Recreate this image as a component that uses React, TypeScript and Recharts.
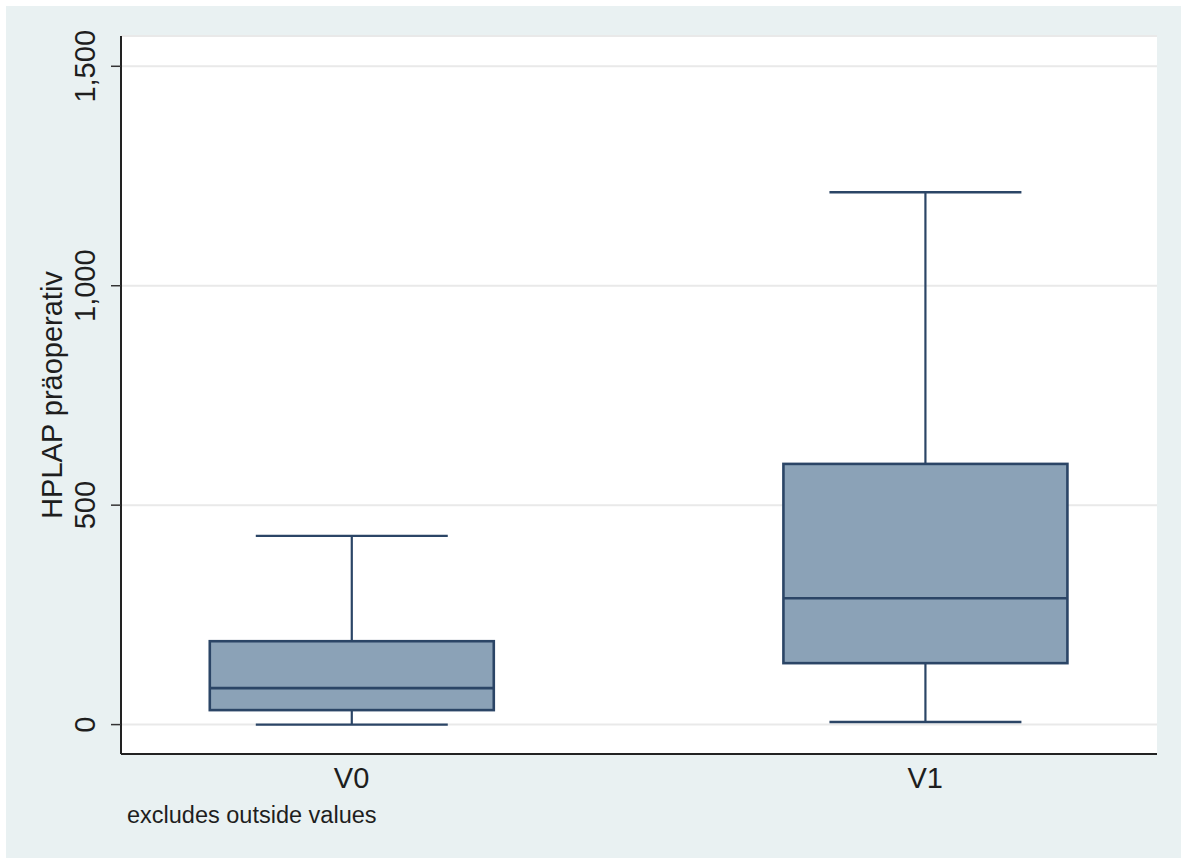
import React from 'react';
import { ComposedChart, Bar, XAxis, YAxis, CartesianGrid } from 'recharts';

// Box-plot summary for HPLAP (preoperative), outside values excluded
const categories = ['V0', 'V1'];
const whiskerLow = [0, 6];
const quartile1 = [33, 140];
const medians = [83, 288];
const quartile3 = [190, 594];
const whiskerHigh = [430, 1213];
const yTicks = [0, 500, 1000, 1500];

const data = categories.map((name, i) => ({
  name,
  pos: i + 1,
  lo: whiskerLow[i],
  q1: quartile1[i],
  med: medians[i],
  q3: quartile3[i],
  hi: whiskerHigh[i],
}));

const FONT = '"Liberation Sans", Arial, Helvetica, sans-serif';
const TEXT = '#1e1e1e';
const BOX_FILL = '#8ba2b7';
const BOX_LINE = '#2b4566';

const BoxShape = (props: any) => {
  const { x, y, width, height, payload } = props;
  const top = Math.min(y, y + height);
  const bottom = Math.max(y, y + height);
  const span = payload.hi - payload.lo;
  const py = (v: number) => top + ((payload.hi - v) / span) * (bottom - top);
  const cx = x + width / 2;
  const capHalf = width * 0.338;
  const yQ3 = py(payload.q3);
  const yQ1 = py(payload.q1);
  const yMed = py(payload.med);
  return (
    <g>
      <line x1={cx} x2={cx} y1={top} y2={yQ3} stroke={BOX_LINE} strokeWidth={2.2} />
      <line x1={cx} x2={cx} y1={yQ1} y2={bottom} stroke={BOX_LINE} strokeWidth={2.2} />
      <line x1={cx - capHalf} x2={cx + capHalf} y1={top} y2={top} stroke={BOX_LINE} strokeWidth={2.4} />
      <line x1={cx - capHalf} x2={cx + capHalf} y1={bottom} y2={bottom} stroke={BOX_LINE} strokeWidth={2.4} />
      <rect x={x} y={yQ3} width={width} height={yQ1 - yQ3} fill={BOX_FILL} stroke={BOX_LINE} strokeWidth={2.6} />
      <line x1={x} x2={x + width} y1={yMed} y2={yMed} stroke={BOX_LINE} strokeWidth={2.6} />
    </g>
  );
};

const YTick = (props: any) => {
  const { x, y, payload } = props;
  return (
    <text
      transform={`translate(${x}, ${y}) rotate(-90)`}
      textAnchor="middle"
      fontFamily={FONT}
      fontSize={29}
      fill={TEXT}
    >
      {payload.value.toLocaleString('en-US')}
    </text>
  );
};

const XTick = (props: any) => {
  const { x, y, payload } = props;
  return (
    <text x={x} y={y + 34} textAnchor="middle" fontFamily={FONT} fontSize={29} fill={TEXT}>
      {categories[payload.value - 1]}
    </text>
  );
};

const YTitle = (props: any) => {
  const { viewBox } = props;
  const cy = viewBox.y + viewBox.height / 2;
  return (
    <text
      transform={`translate(56, ${cy}) rotate(-90)`}
      textAnchor="middle"
      fontFamily={FONT}
      fontSize={29}
      fill={TEXT}
    >
      HPLAP präoperativ
    </text>
  );
};

const Note = (props: any) => {
  const { viewBox } = props;
  return (
    <text x={viewBox.x + 6} y={viewBox.y + 69} fontFamily={FONT} fontSize={23.5} fill={TEXT}>
      excludes outside values
    </text>
  );
};

export default function App() {
  return (
    <div
      style={{
        position: 'absolute',
        left: 6,
        top: 6,
        width: 1175,
        height: 852,
        background: '#e9f1f2',
      }}
    >
      <ComposedChart
        width={1175}
        height={852}
        data={data}
        margin={{ top: 30, right: 24, bottom: 24, left: 0 }}
      >
        <CartesianGrid
          vertical={false}
          horizontal
          fill="#ffffff"
          stroke="#e9e9e9"
          strokeWidth={2}
        />
        <XAxis
          type="number"
          dataKey="pos"
          domain={[0.598, 2.404]}
          ticks={[1, 2]}
          allowDataOverflow
          height={80}
          tickLine={false}
          tickSize={0}
          tickMargin={0}
          axisLine={{ stroke: '#222', strokeWidth: 2 }}
          tick={<XTick />}
          label={<Note />}
        />
        <YAxis
          type="number"
          domain={[-67, 1569]}
          ticks={yTicks}
          allowDataOverflow
          width={115}
          tickSize={10}
          tickMargin={16}
          tickLine={{ stroke: '#333', strokeWidth: 1.5 }}
          axisLine={{ stroke: '#222', strokeWidth: 2 }}
          tick={<YTick />}
          label={<YTitle />}
        />
        <Bar
          dataKey={(d: any) => [d.lo, d.hi]}
          barSize={284}
          shape={<BoxShape />}
          activeBar={false}
          isAnimationActive={false}
        />
      </ComposedChart>
    </div>
  );
}
